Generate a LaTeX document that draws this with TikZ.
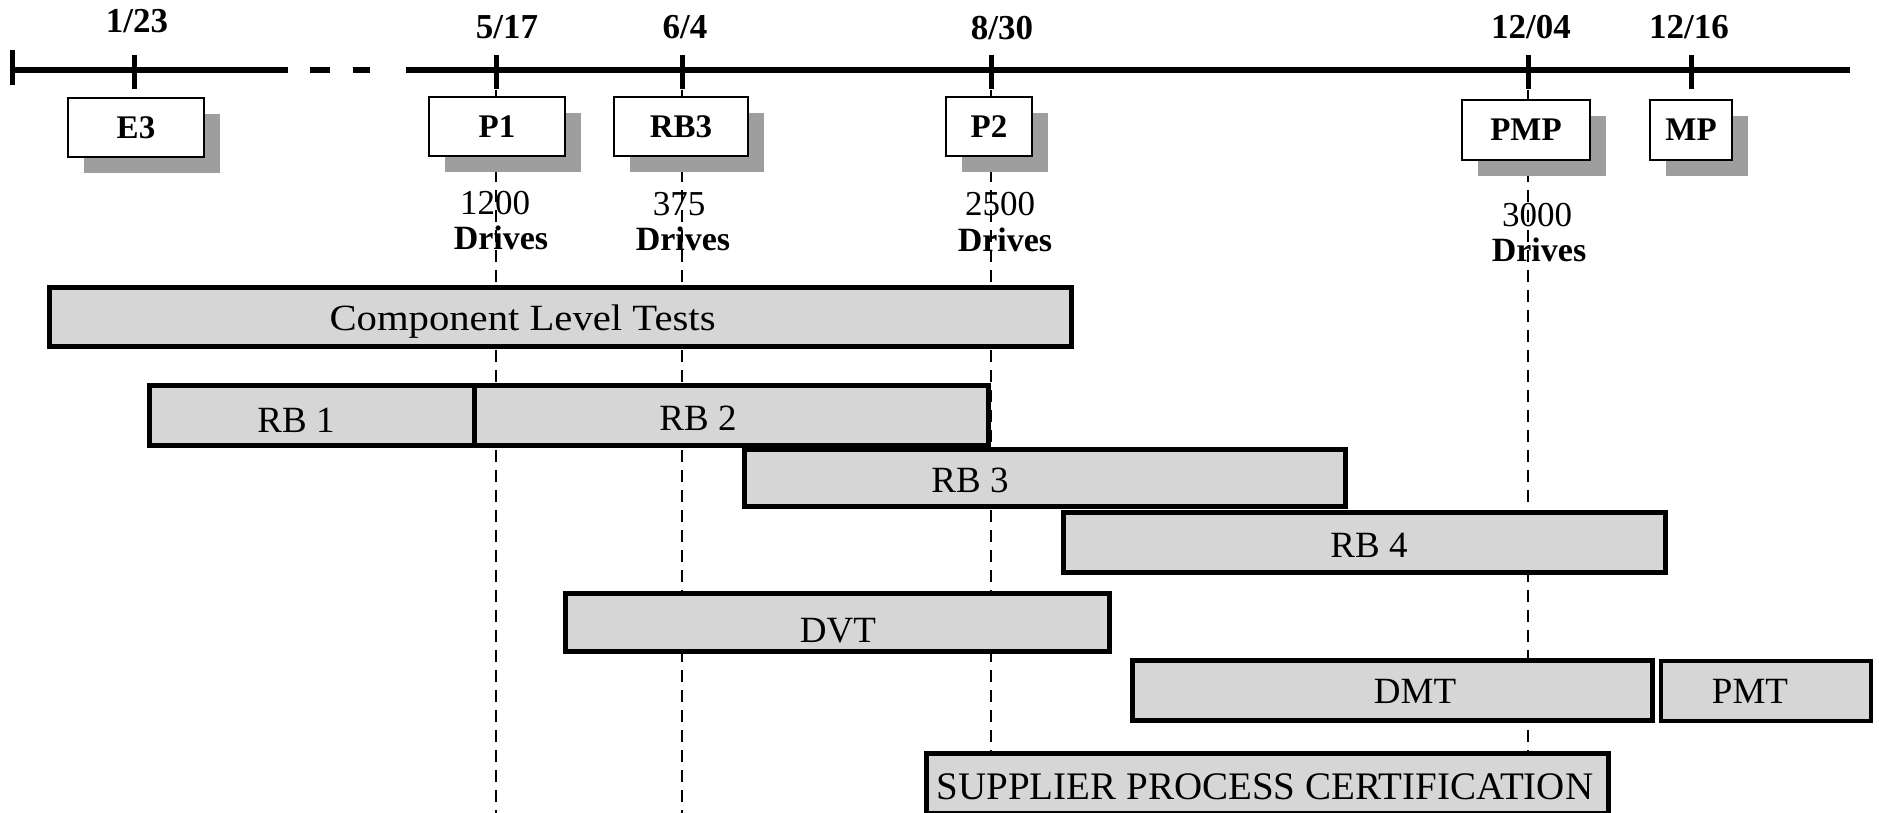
\documentclass[tikz,border=0pt]{standalone}
\usepackage{fontspec}
\setmainfont{Liberation Serif}
\newfontfamily\widefont[FakeStretch=1.1]{Liberation Serif}
\usetikzlibrary{shadows,backgrounds}
\definecolor{barfill}{gray}{0.84}
\definecolor{shadowgray}{gray}{0.62}
\begin{document}
\begin{tikzpicture}[x=1pt,y=-1pt,
  tl/.style={line width=6pt},
  tickmark/.style={line width=5pt},
  vline/.style={line width=2.5pt, dash pattern=on 12pt off 8pt},
  datelbl/.style={font=\bfseries\fontsize{35}{38}\selectfont, inner sep=0pt, anchor=base},
  mstone/.style={draw, line width=2.5pt, fill=white, inner sep=0pt, minimum height=59pt,
    font=\bfseries\fontsize{33}{36}\selectfont,
    drop shadow={shadow xshift=16pt, shadow yshift=-16pt, fill=shadowgray, opacity=1}},
  bar/.style={draw, line width=5pt, fill=barfill, inner sep=0pt},
  bartxt/.style={font=\fontsize{37}{40}\selectfont, inner sep=0pt, anchor=base},
  numtxt/.style={font=\fontsize{35}{36}\selectfont, inner sep=0pt, anchor=base},
  drvtxt/.style={font=\bfseries\fontsize{34}{36}\selectfont, inner sep=0pt, anchor=base},
]
\useasboundingbox (0,0) rectangle (1879,812);

% tick coordinates on the timeline
\coordinate (t123) at (134,70);
\coordinate (t517) at (496,70);
\coordinate (t604) at (682,70);
\coordinate (t830) at (991,70);
\coordinate (t1204) at (1528,70);
\coordinate (t1216) at (1691,70);
\coordinate (tlA) at (12,70);
\coordinate (tlB) at (288,70);
\coordinate (tlC) at (310,70);
\coordinate (tlD) at (330,70);
\coordinate (tlE) at (353,70);
\coordinate (tlF) at (370,70);
\coordinate (tlG) at (406,70);
\coordinate (tlH) at (1850,70);

% timeline
\draw[tl] (tlA) -- (tlB);
\draw[tl] (tlC) -- (tlD);
\draw[tl] (tlE) -- (tlF);
\draw[tl] (tlG) -- (tlH);
\draw[tickmark] ([yshift=20pt]tlA) -- ([yshift=-15pt]tlA);
\foreach \t in {t123,t517,t604,t830,t1204,t1216}
  \draw[tickmark] ([yshift=15pt]\t) -- ([yshift=-19pt]\t);

% dates
\node[datelbl] (d123) at (137,32) {1/23};
\node[datelbl] (d517) at (507,38) {5/17};
\node[datelbl] (d604) at (685,38) {6/4};
\node[datelbl] (d830) at (1002,39) {8/30};
\node[datelbl] (d1204) at (1531,38) {12/04};
\node[datelbl] (d1216) at (1689,38) {12/16};

% milestone boxes
\node[mstone, minimum width=136pt] (E3) at (136,127.5) {E3};
\node[mstone, minimum width=136pt] (P1) at (497,126.5) {P1};
\node[mstone, minimum width=134pt] (RB3m) at (681,126.5) {RB3};
\node[mstone, minimum width=86pt] (P2) at (989,126.5) {P2};
\node[mstone, minimum width=128pt, minimum height=60pt] (PMP) at (1526,130) {PMP};
\node[mstone, minimum width=82pt, minimum height=60pt] (MP) at (1691,130) {MP};

% drive counts
\node[numtxt] (n1200) at (495,214) {1200};
\node[drvtxt] (v1200) at (501,249) {Drives};
\node[numtxt] (n375) at (679,215) {375};
\node[drvtxt] (v375) at (683,250) {Drives};
\node[numtxt] (n2500) at (1000,215) {2500};
\node[drvtxt] (v2500) at (1005,251) {Drives};
\node[numtxt] (n3000) at (1537,226) {3000};
\node[drvtxt] (v3000) at (1539,261) {Drives};

% bars
\node[bar, minimum width=1022pt, minimum height=59pt] (clt) at (560.5,317) {};
\node[bar, minimum width=324.5pt, minimum height=60pt] (rb1) at (311.75,415.5) {};
\node[bar, minimum width=514.5pt, minimum height=60pt] (rb2) at (731.25,415.5) {};
\node[bar, minimum width=601pt, minimum height=57pt] (rb3) at (1045,478) {};
\node[bar, minimum width=602pt, minimum height=60pt] (rb4) at (1364.5,542.5) {};
\node[bar, minimum width=544pt, minimum height=58pt] (dvt) at (837.5,622.5) {};
\node[bar, minimum width=520pt, minimum height=60pt] (dmt) at (1392.5,690.5) {};
\node[bar, minimum width=210pt, minimum height=60pt, line width=4pt] (pmt) at (1765.5,690.5) {};
\node[bar, minimum width=682pt, minimum height=60pt] (sup) at (1267.5,783.5) {};

% bar labels
\node[bartxt, font=\widefont\fontsize{37}{40}\selectfont] at (522.5,330) {Component Level Tests};
\node[bartxt] at (296,432) {RB 1};
\node[bartxt] at (698,430) {RB 2};
\node[bartxt] at (970,492) {RB 3};
\node[bartxt] at (1369,557) {RB 4};
\node[bartxt] at (838,642) {DVT};
\node[bartxt] at (1415,703) {DMT};
\node[bartxt] at (1750,703) {PMT};
\node[bartxt, font=\fontsize{39}{42}\selectfont] at (1265,799) {SUPPLIER PROCESS CERTIFICATION};

% dashed date lines (behind everything)
\coordinate (e517) at (496,820);
\coordinate (e604) at (682,820);
\begin{pgfonlayer}{background}
  \draw[vline] (t517) -- (e517);
  \draw[vline] (t604) -- (e604);
  \draw[vline] (t830) -- (t830 |- sup.north);
  \draw[vline] (t1204) -- (t1204 |- sup.north);
\end{pgfonlayer}
\end{tikzpicture}
\end{document}
